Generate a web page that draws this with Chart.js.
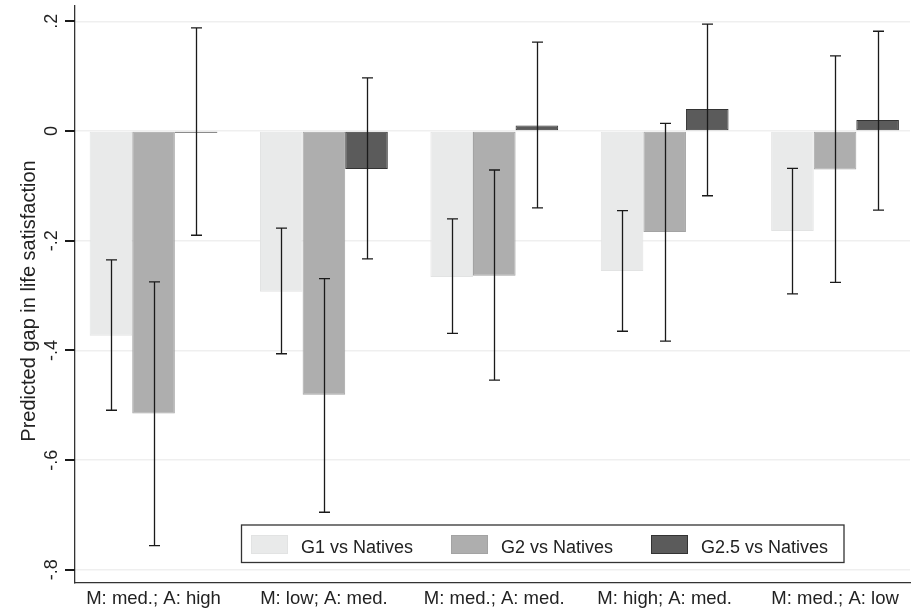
<!DOCTYPE html>
<html>
<head>
<meta charset="utf-8">
<script src="https://cdn.jsdelivr.net/npm/chart.js@4"></script>
<style>
  body { margin: 0; background: #fff; }
  #wrap { width: 912px; height: 610px; position: relative; }
</style>
</head>
<body>
<div id="wrap"><canvas id="gap-chart"></canvas></div>
<script>
// categories and series
const categories = ['M: med.; A: high', 'M: low; A: med.', 'M: med.; A: med.', 'M: high; A: med.', 'M: med.; A: low'];
const seriesNames = ['G1 vs Natives', 'G2 vs Natives', 'G2.5 vs Natives'];

const g1 = [-0.373, -0.293, -0.266, -0.255, -0.182];
const g1Lo = [-0.509, -0.406, -0.369, -0.365, -0.297];
const g1Hi = [-0.235, -0.177, -0.160, -0.145, -0.068];

const g2 = [-0.515, -0.481, -0.264, -0.184, -0.070];
const g2Lo = [-0.756, -0.695, -0.454, -0.383, -0.276];
const g2Hi = [-0.275, -0.269, -0.071, 0.014, 0.137];

const g25 = [-0.003, -0.069, 0.010, 0.040, 0.020];
const g25Lo = [-0.190, -0.233, -0.140, -0.118, -0.144];
const g25Hi = [0.188, 0.097, 0.162, 0.195, 0.182];

const yTicks = [0.2, 0, -0.2, -0.4, -0.6, -0.8];
const yTickLabels = ['.2', '0', '-.2', '-.4', '-.6', '-.8'];
const yTitle = 'Predicted gap in life satisfaction';

const FONT = '"Liberation Sans", Arial, Helvetica, sans-serif';
const fills = ['#e9eaea', '#aeaeae', '#5b5b5b'];
const borders = ['#e2e3e3', '#a3a3a3', '#333333'];

function toPoints(arr) {
    return arr.map((v, i) => ({ x: i, y: v }));
}

const seriesValues = [g1, g2, g25];
const seriesLo = [g1Lo, g2Lo, g25Lo];
const seriesHi = [g1Hi, g2Hi, g25Hi];

// error bars, y labels, y title and the boxed legend
const extrasPlugin = {
    id: 'extras',
    afterDatasetsDraw(chart) {
        const ctx = chart.ctx;
        const yScale = chart.scales.y;
        ctx.save();
        ctx.strokeStyle = '#1a1a1a';
        ctx.lineWidth = 1.3;
        for (let d = 0; d < seriesValues.length; d++) {
            const meta = chart.getDatasetMeta(d);
            meta.data.forEach((bar, j) => {
                const x = Math.round(bar.x) + 0.5;
                const yLo = yScale.getPixelForValue(seriesLo[d][j]);
                const yHi = yScale.getPixelForValue(seriesHi[d][j]);
                ctx.beginPath();
                ctx.moveTo(x, yHi);
                ctx.lineTo(x, yLo);
                ctx.moveTo(x - 5.5, yHi);
                ctx.lineTo(x + 5.5, yHi);
                ctx.moveTo(x - 5.5, yLo);
                ctx.lineTo(x + 5.5, yLo);
                ctx.stroke();
            });
        }
        ctx.restore();
    },
    afterDraw(chart) {
        const ctx = chart.ctx;
        const yScale = chart.scales.y;
        ctx.save();
        // y tick marks, as filled rects
        ctx.fillStyle = '#1a1a1a';
        yTicks.forEach((v) => {
            const y = Math.round(yScale.getPixelForValue(v));
            ctx.fillRect(65, y - 1, 10, 2);
        });

        ctx.fillStyle = '#222';
        ctx.font = '18px ' + FONT;
        ctx.textAlign = 'center';
        ctx.textBaseline = 'alphabetic';
        yTicks.forEach((v, i) => {
            ctx.save();
            ctx.translate(57, yScale.getPixelForValue(v));
            ctx.rotate(-Math.PI / 2);
            ctx.fillText(yTickLabels[i], 0, 0);
            ctx.restore();
        });

        ctx.save();
        ctx.font = '20px ' + FONT;
        ctx.translate(35, 301);
        ctx.rotate(-Math.PI / 2);
        ctx.fillText(yTitle, 0, 0);
        ctx.restore();

        // legend box
        const bx = 241.5, by = 525, bw = 602.5, bh = 37.5;
        ctx.fillStyle = '#fff';
        ctx.fillRect(bx, by, bw, bh);
        ctx.strokeStyle = '#333';
        ctx.lineWidth = 1.3;
        ctx.strokeRect(bx, by, bw, bh);
        const swatchX = [251, 451, 651];
        ctx.font = '18px ' + FONT;
        ctx.textAlign = 'left';
        seriesNames.forEach((name, i) => {
            ctx.fillStyle = fills[i];
            ctx.fillRect(swatchX[i], 535, 37, 19);
            ctx.strokeStyle = borders[i];
            ctx.lineWidth = 1;
            ctx.strokeRect(swatchX[i] + 0.5, 535.5, 36, 18);
            ctx.fillStyle = '#222';
            ctx.fillText(name, swatchX[i] + 50, 552.5);
        });
        ctx.restore();
    }
};

new Chart(document.getElementById('gap-chart'), {
    type: 'bar',
    data: {
        datasets: seriesNames.map((name, i) => ({
            label: name,
            data: toPoints(seriesValues[i]),
            backgroundColor: fills[i],
            borderColor: borders[i],
            borderWidth: 1,
            borderSkipped: false,
            categoryPercentage: 0.75,
            barPercentage: 1.0
        }))
    },
    options: {
        responsive: true,
        maintainAspectRatio: false,
        animation: false,
        layout: { padding: { top: 6, right: 2, left: 0, bottom: 0 } },
        plugins: {
            legend: { display: false },
            tooltip: { enabled: false }
        },
        scales: {
            x: {
                type: 'linear',
                offset: false,
                min: -0.461,
                max: 4.44,
                afterBuildTicks: (scale) => {
                    scale.ticks = categories.map((c, i) => ({ value: i }));
                },
                afterFit: (scale) => { scale.height = 27; },
                grid: { display: false, drawTicks: false, offset: false },
                border: { display: true, color: '#333', width: 1.3 },
                ticks: {
                    autoSkip: false,
                    maxRotation: 0,
                    padding: 5,
                    color: '#222',
                    font: { family: FONT, size: 18.5 },
                    callback: (v) => categories[v]
                }
            },
            y: {
                min: -0.824,
                max: 0.228,
                afterBuildTicks: (scale) => {
                    scale.ticks = yTicks.map((v) => ({ value: v }));
                },
                afterFit: (scale) => { scale.width = 75; },
                grid: {
                    color: '#efefef',
                    lineWidth: 1.6,
                    drawTicks: false
                },
                border: { display: true, color: '#333', width: 1.3 },
                ticks: { display: false }
            }
        }
    },
    plugins: [extrasPlugin]
});
</script>
</body>
</html>
